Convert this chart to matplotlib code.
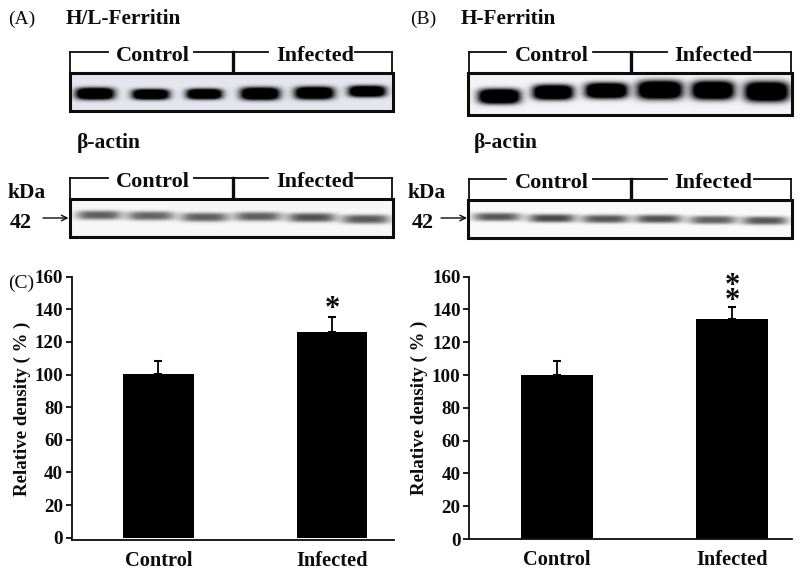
import numpy as np
import matplotlib
matplotlib.use("Agg")
import matplotlib.pyplot as plt

# ---- data ----
groups = ["Control", "Infected"]
hl_density = [100.3, 126]
hl_error = [8, 9]
h_density = [100.3, 134.5]
h_error = [8, 7]
yticks = [0, 20, 40, 60, 80, 100, 120, 140, 160]

# band darkness per lane (0-1)
hl_top_dark = [1, 1, 1, 1, 1, 1]
hl_actin_dark = [.62, .6, .62, .62, .68, .64]
h_top_dark = [1, 1, 1, 1, 1, 1]
h_actin_dark = [.66, .72, .66, .68, .62, .66]

# band geometry: centre x, centre y, half width, half height (pixels of the 800x574 picture, x3)
hl_top_geo = [(283, 281, 56, 17), (450, 283, 54, 15), (611, 282, 52, 15),
              (778, 281, 57, 18), (941, 279, 57, 18), (1099, 274, 54, 16)]
hl_actin_geo = [(295, 647, 66, 13), (450, 649, 69, 13), (612, 653, 70, 13),
                (772, 651, 69, 13), (933, 654, 70, 13), (1095, 659, 70, 13)]
h_top_geo = [(297, 289, 60, 21), (458, 277, 58, 21), (618, 272, 61, 22),
             (778, 270, 65, 26), (937, 271, 61, 26), (1098, 275, 63, 28)]
h_actin_geo = [(290, 650, 69, 12), (455, 654, 69, 12), (615, 656, 69, 12),
               (774, 656, 69, 12), (937, 659, 69, 12), (1093, 661, 66, 12)]

SERIF = "Liberation Serif"
INK = "#0c0c0c"
plt.rcParams["font.family"] = SERIF
W, H = 800, 574
fig = plt.figure(figsize=(W / 100, H / 100), dpi=100)
bg = fig.add_axes([0, 0, 1, 1])
bg.set_xlim(0, W)
bg.set_ylim(H, 0)
bg.axis("off")


def blot(x0, x1, y0, y1, geo, dark, face, off=0, gain=1.0):
    xs = np.arange(x0, x1, 0.5)
    ys = np.arange(y0, y1, 0.5)
    X, Y = np.meshgrid(xs, ys)
    img = np.ones_like(X)
    for (cx, cy, hw, hh), d in zip(geo, dark):
        cx = cx / 3 + off
        r = (np.abs(X - cx) / (hw / 3)) ** 4 + (np.abs(Y - cy / 3) / (hh / 3)) ** 3
        img = img * (1 - np.clip(gain * d * np.exp(-r * 0.9), 0, 1))
    rgb = np.dstack([img * face[i] for i in range(3)])
    bg.imshow(rgb, extent=(x0, x1, y1, y0), aspect="auto", interpolation="bilinear", zorder=1)
    bg.plot([x0, x1, x1, x0, x0], [y0, y0, y1, y1, y0], color=INK, lw=2.2, zorder=2,
            solid_joinstyle="miter")
    bg.set_xlim(0, W)
    bg.set_ylim(H, 0)


def bracket(x0, xm, x1, y, ybot, segs):
    for a, b in segs:
        bg.plot([a, b], [y, y], color=INK, lw=1.3, zorder=2)
    bg.plot([x0, x0], [y, ybot], color=INK, lw=1.3, zorder=2)
    bg.plot([x1, x1], [y, ybot], color=INK, lw=1.3, zorder=2)
    bg.plot([xm, xm], [y, ybot], color=INK, lw=2.4, zorder=2)


def t(x, y, s, size=16, weight="bold", ha="left", **kw):
    bg.text(x, y, s, fontsize=size, fontweight=weight, ha=ha, va="center", color=INK,
            family=SERIF, zorder=3, **kw)


def arrow(x0, x1, y):
    bg.annotate("", xy=(x1, y), xytext=(x0, y),
                arrowprops=dict(arrowstyle="->", color=INK, lw=1.0, mutation_scale=10,
                                shrinkA=0, shrinkB=0), zorder=3)


# panel A blots
blot(69.5, 392.5, 72.5, 111, hl_top_geo, hl_top_dark, (0.90, 0.90, 0.94), gain=1.7)
blot(69.5, 392.5, 199, 236.5, hl_actin_geo, hl_actin_dark, (0.97, 0.97, 0.97), gain=1.0)
bracket(70, 233, 392, 51.7, 72, [(70, 108), (194, 268), (355, 392)])
bracket(70, 233, 392, 177.7, 198, [(70, 108), (194, 268), (355, 392)])
for yy in (56, 182):
    t(153, yy, "Control", ha="center")
    t(315, yy, "Infected", ha="center")
t(8, 19.5, "(A)", size=14, weight="normal")
t(66, 19, "H/L-Ferritin", size=15.3)
t(77, 143, "β-actin", size=15.5)
t(8, 193.5, "kDa", size=15.5)
t(10, 223.5, "42", size=16)
arrow(43, 68.5, 218)

# panel B blots
blot(468, 791.5, 72.5, 115, h_top_geo, h_top_dark, (0.95, 0.95, 0.97), off=400, gain=1.8)
blot(468, 791.5, 200, 238, h_actin_geo, h_actin_dark, (0.98, 0.98, 0.98), off=400, gain=1.0)
bracket(468.5, 631.3, 791, 51.7, 72, [(468.5, 506), (592.5, 667), (754, 791)])
bracket(468.5, 631.3, 791, 179, 199, [(468.5, 506), (592.5, 667), (754, 791)])
for yy in (56, 183):
    t(551.5, yy, "Control", ha="center")
    t(713.5, yy, "Infected", ha="center")
t(410, 19.5, "(B)", size=14, weight="normal")
t(461, 19, "H-Ferritin", size=15.3)
t(474, 143, "β-actin", size=15.5)
t(408, 193.5, "kDa", size=15.5)
t(412, 223.5, "42", size=16)
arrow(441, 467, 218)
t(8, 283.5, "(C)", size=14, weight="normal")


def chart(left, right, top, zero, base, xlo, xhi, width, vals, errs, ylab_x):
    ax = fig.add_axes([left / W, 1 - base / H, (right - left) / W, (base - top) / H])
    ax.patch.set_alpha(0)
    scale = (zero - top) / 160
    ax.set_ylim(-(base - zero) / scale, 160)
    ax.set_xlim(xlo, xhi)
    ax.bar([0, 1], vals, width=width, color="black", zorder=2)
    ax.errorbar([0, 1], vals, yerr=[[0, 0], errs], fmt="none", ecolor="black",
                elinewidth=1.3, capsize=2.6, capthick=1.5, zorder=1)
    ax.set_yticks(yticks)
    ax.set_xticks([0, 1], groups)
    for s in ("top", "right"):
        ax.spines[s].set_visible(False)
    for s in ("left", "bottom"):
        ax.spines[s].set_linewidth(1.3)
        ax.spines[s].set_color(INK)
    ax.tick_params(axis="y", length=4, width=1.3, pad=2, labelsize=13.7, colors=INK)
    ax.tick_params(axis="x", length=0, pad=7.5, labelsize=14.7, colors=INK)
    for lab in ax.get_xticklabels() + ax.get_yticklabels():
        lab.set_fontweight("bold")
    ax.set_ylabel("Relative density ( % )", fontsize=13.6, fontweight="bold", color=INK)
    ax.yaxis.set_label_coords((ylab_x - left) / (right - left), 0.5)
    return ax


a1 = chart(71.5, 394, 276.7, 537.7, 540.3, -0.499, 1.355, 0.405, hl_density, hl_error, 31)
a2 = chart(469, 791.7, 276.7, 539, 539.3, -0.505, 1.343, 0.41, h_density, h_error, 428)

t(332.5, 310, "*", size=22, ha="center")
bg.text(732.5, 294, "*\n*", fontsize=22, fontweight="bold", ha="center", va="center", color=INK,
        family=SERIF, linespacing=0.35, zorder=3)

fig.savefig("out.png", dpi=100)
